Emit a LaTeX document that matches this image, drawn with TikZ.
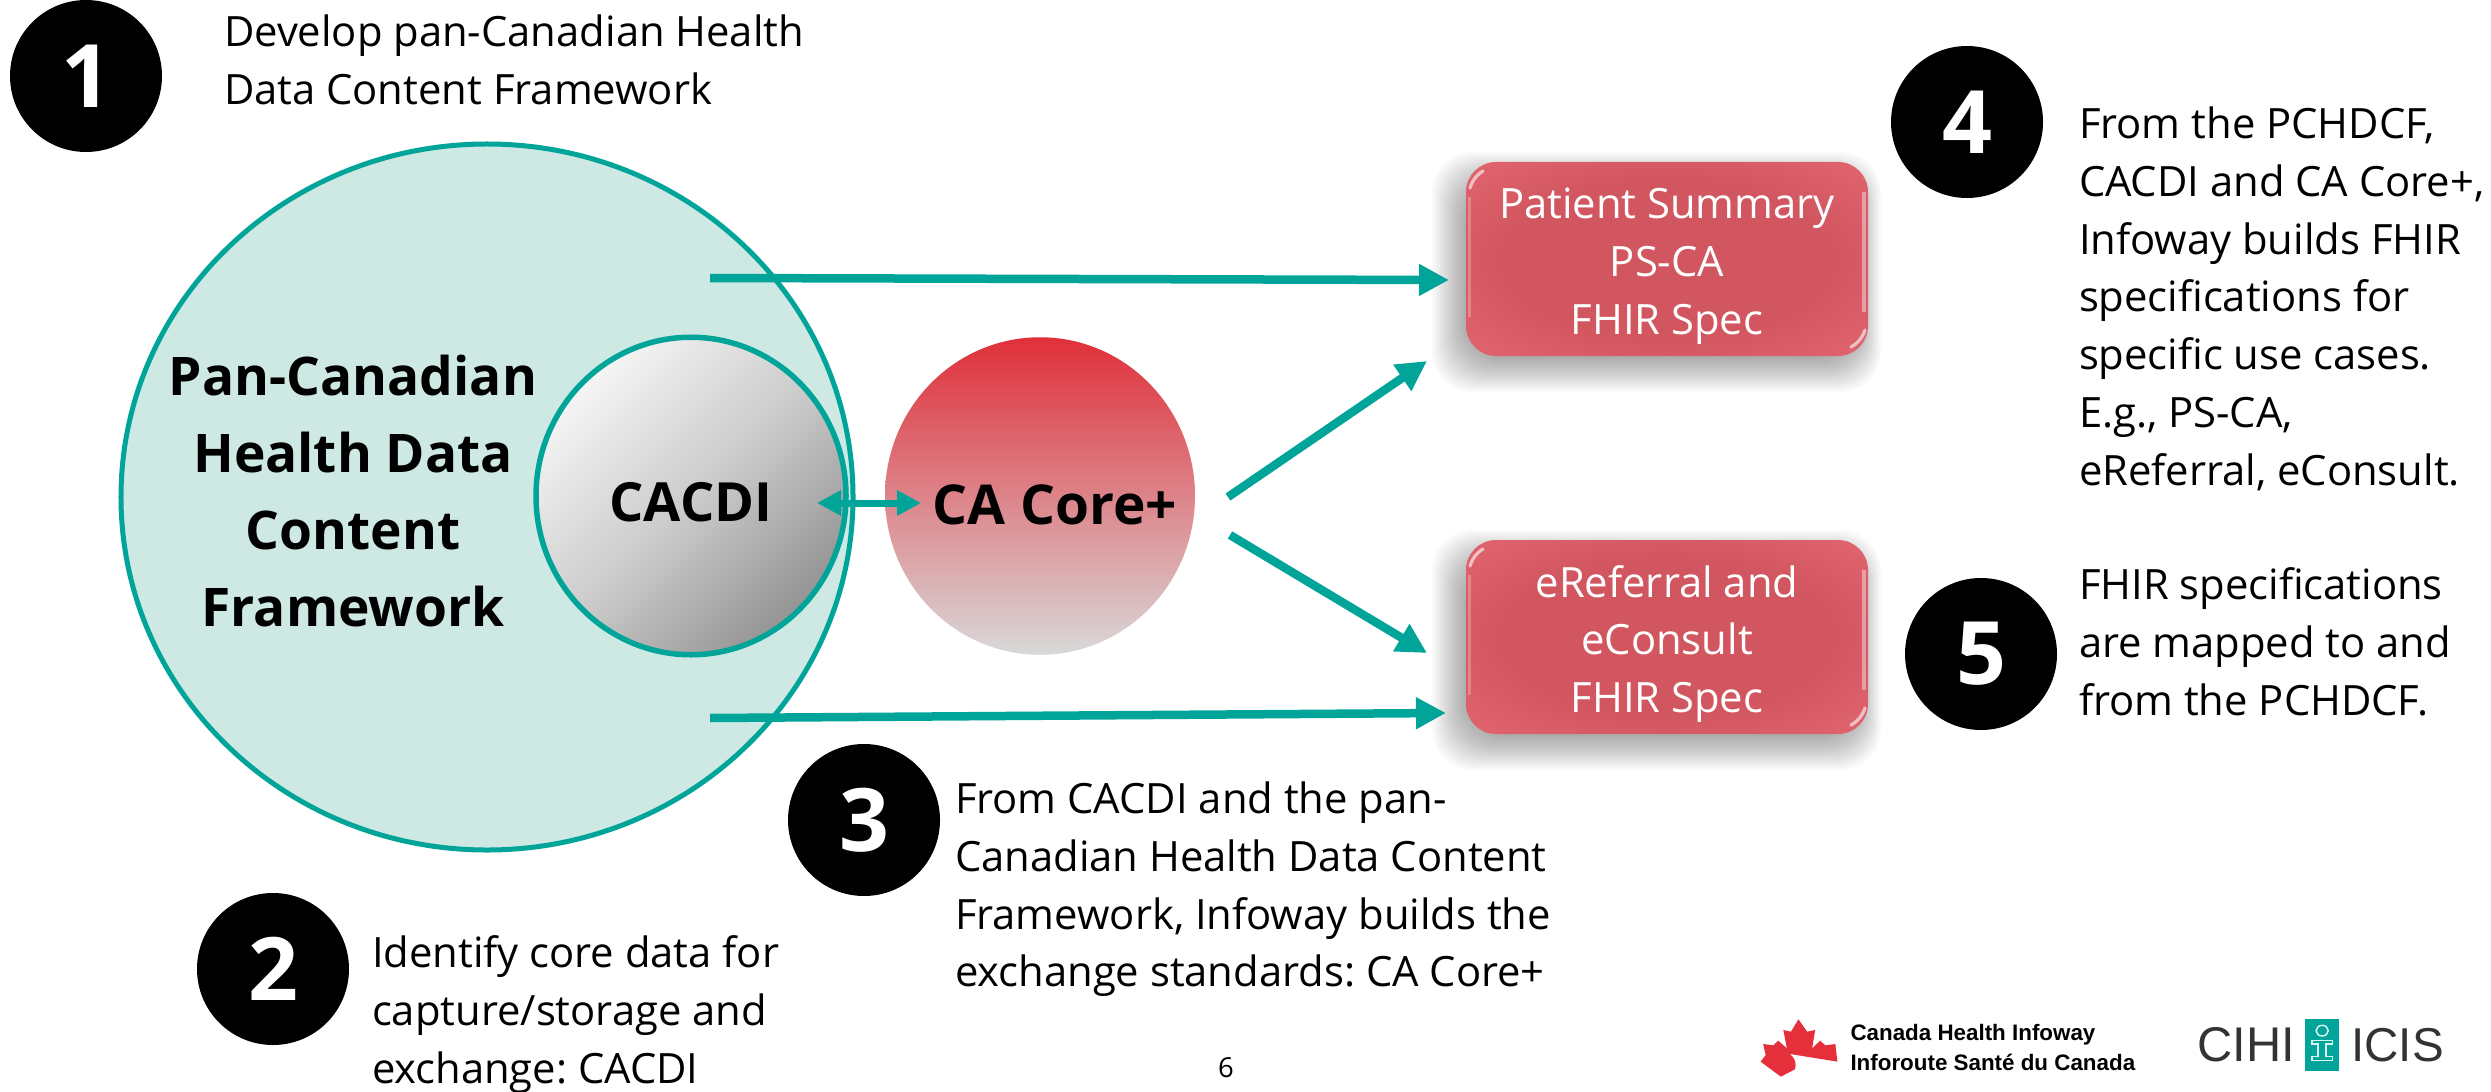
\documentclass[tikz,border=0pt]{standalone}
\usepackage{fontspec}
\usetikzlibrary{shapes.geometric,arrows.meta}
\setmainfont{Open Sans}
\newfontfamily\logofont{Liberation Sans}
\definecolor{teal}{HTML}{00A499}
\definecolor{paleteal}{HTML}{CEE8E3}
\definecolor{coretop}{HTML}{E02F3A}
\definecolor{boxdark}{HTML}{D1565F}
\definecolor{boxlight}{HTML}{E86C76}
\definecolor{leafred}{HTML}{E5303C}
\pgfdeclareradialshading{boxshade}{\pgfpoint{0bp}{0bp}}{color(0bp)=(boxdark); color(20bp)=(boxdark); color(42bp)=(boxlight); color(50bp)=(boxlight)}
\tikzset{
  every node/.style={inner sep=0pt,outer sep=0pt},
  body/.style={font=\frenchspacing\fontsize{16.7}{23.1}\selectfont,align=left,anchor=north west},
  boxtext/.style={font=\fontsize{16.7}{23.1}\selectfont,align=center,text=white},
  bigtext/.style={font=\fontsize{21.3}{30.8}\selectfont\bfseries,align=center},
  numdisc/.style={circle,fill=black,text=white,minimum size=60.8pt,font=\fontsize{35}{35}\selectfont\bfseries},
  conn/.style={draw=teal,line width=3.4pt,-{Triangle[length=12pt,width=12pt]}},
  specbox/.style={rounded corners=12pt},
}
\newcommand{\specbox}[3]{%
  % #1 name, #2 top y, #3 text
  \foreach \g in {24,22,...,-12}{
    \fill[black,opacity=0.02,rounded corners=16pt] (1466-10-\g,#2+14-\g) rectangle (1868-4+\g*0.7,#2+194+12+\g);
  }
  \path[specbox,shade,shading=boxshade] (1466,#2) rectangle (1868,#2+194);
  \node[boxtext,minimum width=160.8pt,minimum height=77.6pt] (#1) at (1667,#2+104) {#3};
  \draw[white,opacity=.25,line width=1.2pt] (1469,#2+35) -- (1469,#2+155);
  \draw[white,opacity=.4,line width=1.5pt] (1864,#2+30) -- (1864,#2+150);
  \draw[white,opacity=.6,line width=1.3pt,line cap=round] (1470,#2+26) to[bend left=20] (1483,#2+9);
  \draw[white,opacity=.6,line width=1.3pt,line cap=round] (1865,#2+168) to[bend left=20] (1851,#2+185);
}
\begin{document}
\begin{tikzpicture}[x=0.4pt,y=-0.4pt]
\useasboundingbox (0,0) rectangle (2491,1092);
\fill[white] (0,0) rectangle (2491,1092);

\node[ellipse,draw=teal,fill=paleteal,line width=2pt,minimum width=292.8pt,minimum height=282.4pt] (pchdcf) at (487,497) {};
\node[bigtext] (pchdcflabel) at (353,491) {Pan-Canadian\\Health Data\\Content\\Framework};
\node[ellipse,draw=teal,line width=2.2pt,minimum width=124pt,minimum height=127pt,
      top color=black!4,bottom color=black!42,middle color=black!20,shading angle=45] (cacdi) at (691,496) {};
\node[font=\fontsize{21.6}{26}\selectfont\bfseries] (cacdilabel) at (691,502) {CACDI};
\node[ellipse,minimum width=124pt,minimum height=127pt,top color=coretop,bottom color=black!15] (core) at (1040,496) {};
\node[font=\fontsize{22}{26}\selectfont\bfseries] (corelabel) at (1055,505) {CA Core+};

\specbox{ps}{162}{Patient Summary\\PS-CA\\FHIR Spec}
\specbox{er}{540}{eReferral and\\eConsult\\FHIR Spec}

\coordinate (a1) at (710,278);
\coordinate (a1e) at (1449,280);
\coordinate (a2) at (710,718);
\coordinate (a2e) at (1446,713);
\coordinate (a3) at (1228,497);
\coordinate (a3e) at (1427,361);
\coordinate (a4) at (1230,535);
\coordinate (a4e) at (1427,653);
\coordinate (a5) at (817,503);
\coordinate (a5e) at (921,503);
\draw[conn] (a1) -- (a1e);
\draw[conn] (a2) -- (a2e);
\draw[conn] (a3) -- (a3e);
\draw[conn] (a4) -- (a4e);
\draw[draw=teal,line width=2.8pt,{Triangle[length=9.6pt,width=9.6pt]}-{Triangle[length=9.6pt,width=9.6pt]}] (a5) -- (a5e);

\node[numdisc] (n1) at (86,76) {1};
\node[numdisc] (n2) at (273,969) {2};
\node[numdisc] (n3) at (864,820) {3};
\node[numdisc] (n4) at (1967,122) {4};
\node[numdisc] (n5) at (1981,654) {5};

\node[body] (t1) at (224,15) {Develop pan-Canadian Health\\Data Content Framework};
\node[body] (t2) at (372,936) {Identify core data for\\capture/storage and\\exchange: CACDI};
\node[body] (t3) at (955,782) {From CACDI and the pan-\\Canadian Health Data Content\\Framework, Infoway builds the\\exchange standards: CA Core+};
\node[body] (t4) at (2079,107) {From the PCHDCF,\\CACDI and CA Core+,\\Infoway builds FHIR\\specifications for\\specific use cases.\\E.g., PS-CA,\\eReferral, eConsult.};
\node[body] (t5) at (2079,568) {FHIR specifications\\are mapped to and\\from the PCHDCF.};
\node[font=\fontsize{11}{13}\selectfont] (page) at (1226,1068) {6};

% logos
\begin{scope}[shift={(1700,980)},x=0.202pt,y=-0.1333pt]
\fill[leafred] (195,118) -- (212,155) -- (228,150) -- (222,205) -- (238,182) -- (248,196) -- (268,192) -- (272,245) -- (178,222) .. controls (188,235) and (192,250) .. (188,268) -- (160,290) -- (120,245) -- (130,225) -- (125,192) -- (145,196) -- (155,182) -- (172,205) -- (165,150) -- (180,155) -- cycle;
\node[font=\logofont\bfseries\fontsize{8.95}{11}\selectfont,anchor=west] (lg1) at (298,165) {Canada Health Infoway};
\node[font=\logofont\bfseries\fontsize{8.95}{11}\selectfont,anchor=west] (lg2) at (298,248) {Inforoute Santé du Canada};
\node[font=\logofont\fontsize{19.5}{22}\selectfont,text=black!80,anchor=west] (cihi) at (985,195) {CIHI};
\node[font=\logofont\fontsize{19}{22}\selectfont,text=black!80,anchor=west] (icis) at (1290,195) {ICIS};
\fill[teal] (1198,118) rectangle (1265,272);
\draw[white!85!teal,line width=0.6pt] (1232,152) ellipse (12 and 16);
\draw[white!85!teal,line width=0.6pt] (1212,182) -- (1252,182) -- (1252,192) -- (1240,192) -- (1240,230) -- (1252,230) -- (1252,242) -- (1212,242) -- (1212,230) -- (1224,230) -- (1224,192) -- (1212,192) -- cycle;
\end{scope}
\end{tikzpicture}
\end{document}
